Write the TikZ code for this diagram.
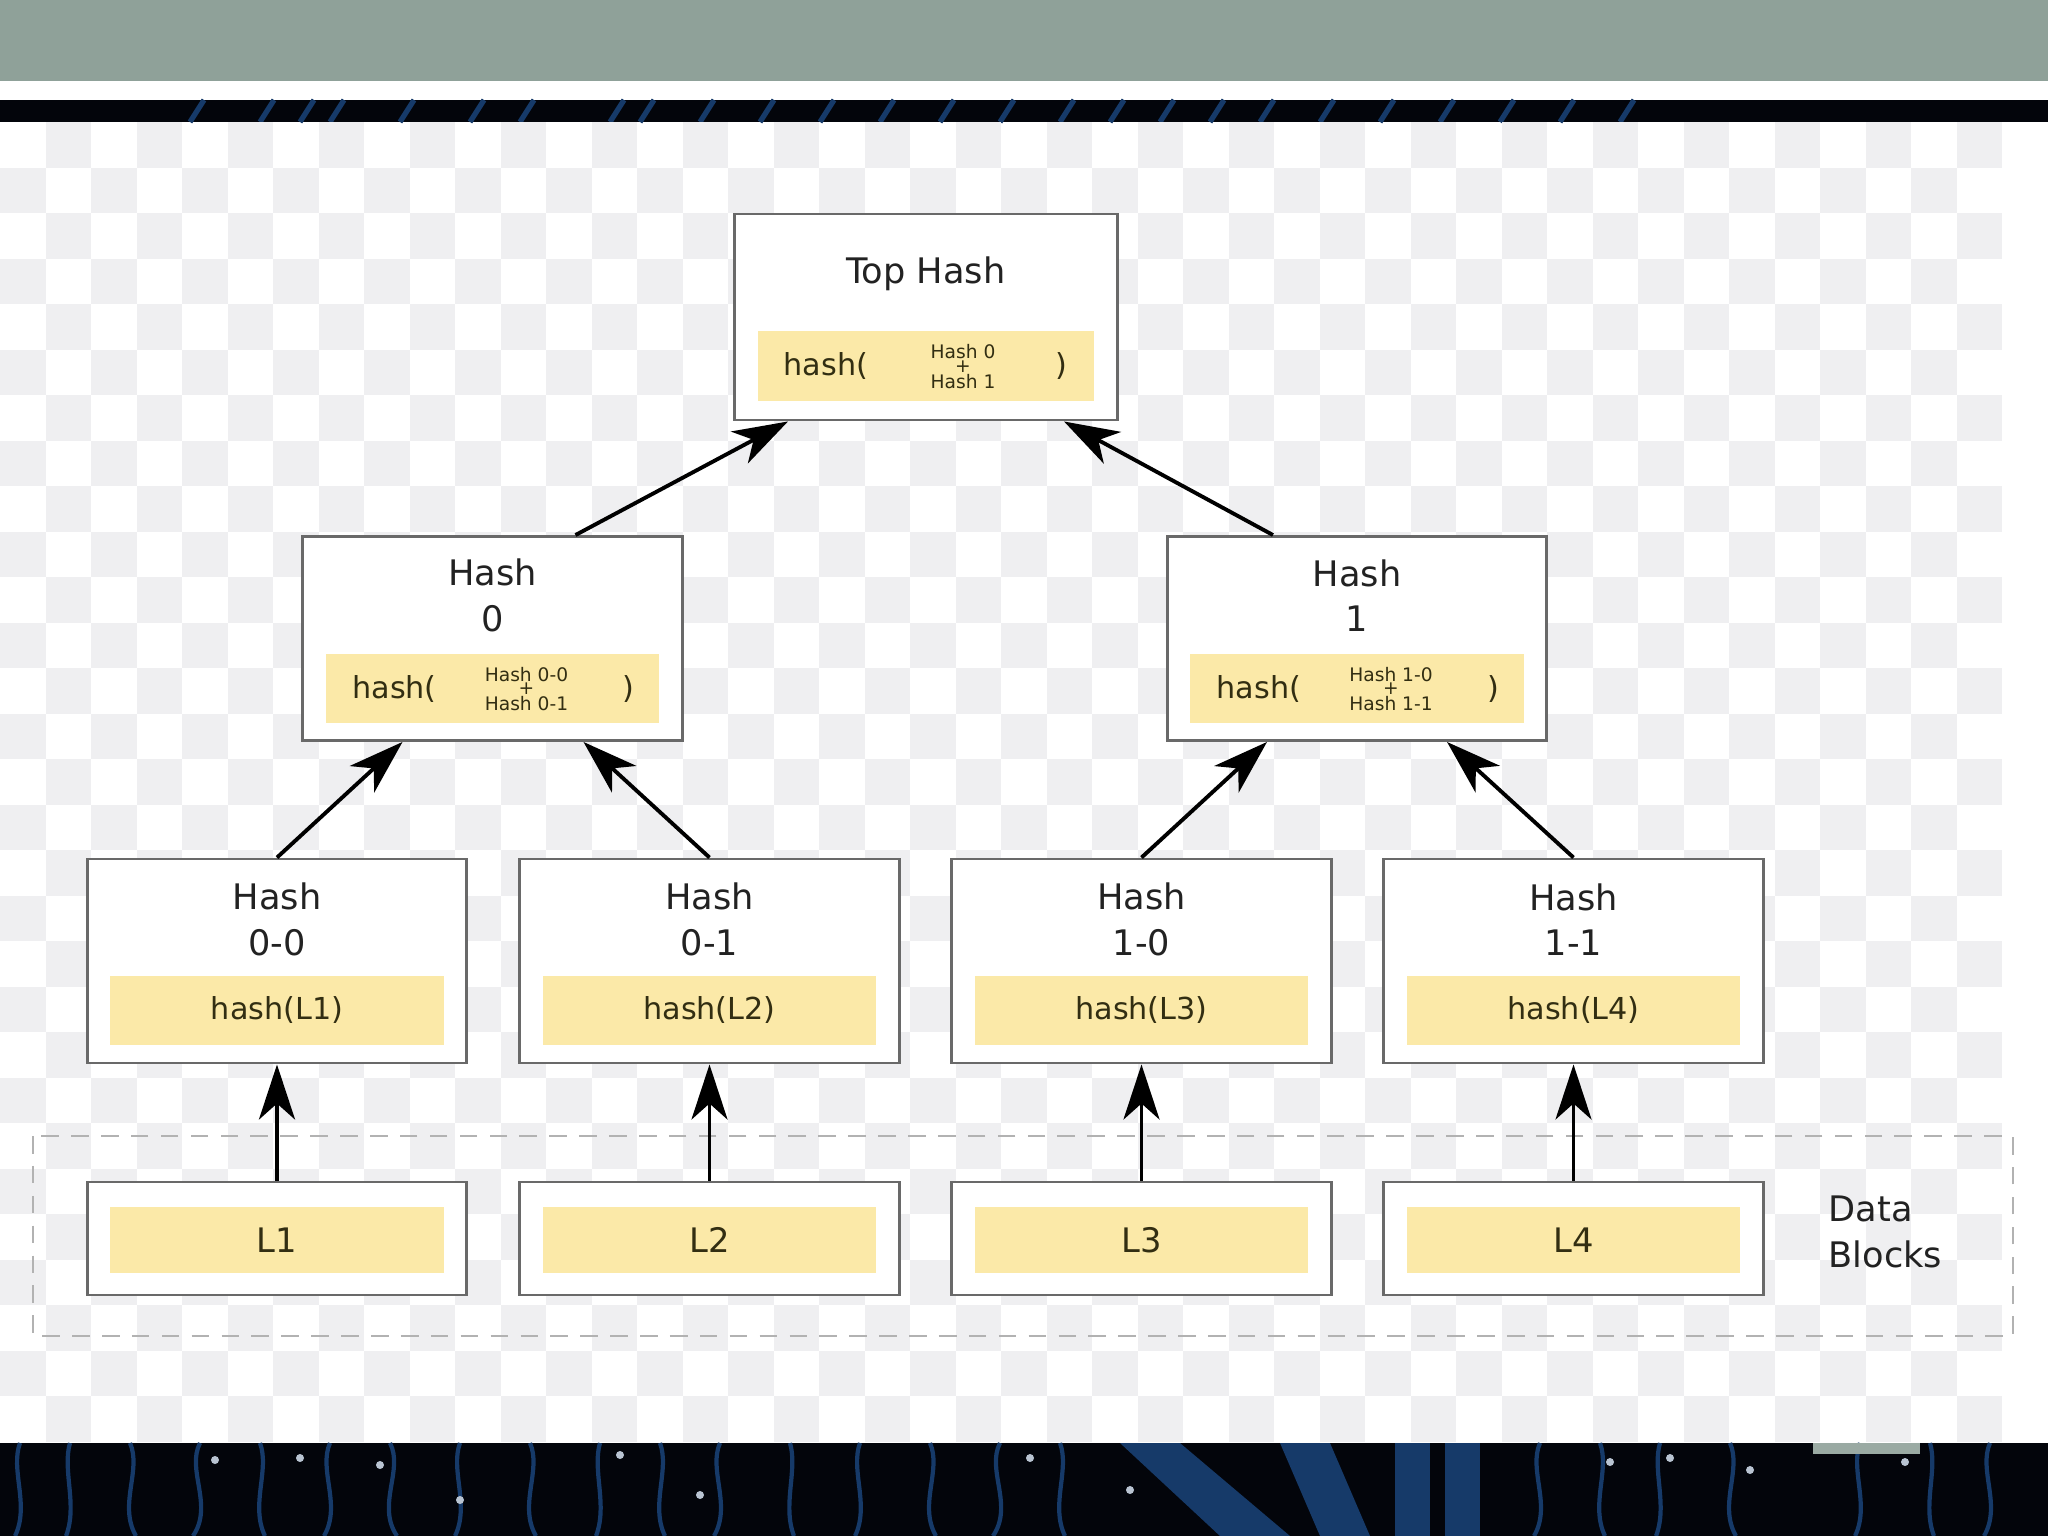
\documentclass[tikz,border=0pt]{standalone}
\usepackage{fontspec}
\setmainfont{DejaVu Sans}
\usetikzlibrary{arrows.meta, calc}

\definecolor{bannergray}{RGB}{143,161,153}
\definecolor{checkgray}{RGB}{239,239,241}
\definecolor{boxgray}{RGB}{105,105,105}
\definecolor{fieldyellow}{RGB}{251,233,168}
\definecolor{fieldtext}{RGB}{50,46,18}
\definecolor{labeltext}{RGB}{34,34,34}
\definecolor{circuitblue}{RGB}{22,58,105}
\definecolor{boarddark}{RGB}{3,5,11}

\newcommand{\titlefont}{\fontsize{10}{13}\selectfont}
\newcommand{\fieldfont}{\fontsize{8.6}{10}\selectfont}
\newcommand{\blockfont}{\fontsize{9.6}{11}\selectfont}
\newcommand{\stackfont}{\fontsize{5.3}{8.4}\selectfont}

\tikzset{
    hashbox/.style={draw=boxgray, fill=white, line width=0.8pt,
        minimum width=3.79cm, minimum height=2.04cm, inner sep=0pt},
    datablock/.style={hashbox, minimum height=1.13cm},
    hashfield/.style={fill=fieldyellow, minimum width=3.33cm,
        minimum height=0.69cm, inner sep=0pt, text=fieldtext, font=\fieldfont},
    titletext/.style={text=labeltext, font=\titlefont, align=center, inner sep=0pt},
    fieldtext/.style={text=fieldtext, font=\fieldfont, inner sep=0pt},
    stacktext/.style={text=fieldtext, font=\stackfont, align=center, inner sep=0pt},
    hasharrow/.style={->, line width=1.1pt, black},
}

\begin{document}
\begin{tikzpicture}[x=0.01cm, y=-0.01cm,
    >={Stealth[length=5.5mm, width=3.6mm, inset=1.6mm]}]

    \useasboundingbox (0,0) rectangle (2048,1536);
    \fill[white] (0,0) rectangle (2048,1536);

    % Banda superior
    \fill[bannergray] (0,0) rectangle (2048,81);
    \fill[boarddark] (0,100) rectangle (2048,122);
    \foreach \x in {190,260,300,330,400,470,520,610,640,700,760,820,880,940,
                    1000,1060,1110,1160,1210,1260,1320,1380,1440,1500,1560,1620}{
        \draw[circuitblue, line width=1.5pt] (\x,122) -- (\x+14,100);
    }

    % Fondo de cuadros
    \begin{scope}
        \clip (0,122) rectangle (2002,1443);
        \foreach \r in {0,...,28}{
            \foreach \c in {0,...,43}{
                \pgfmathparse{int(mod(\r+\c,2))}
                \ifnum\pgfmathresult=1
                    \fill[checkgray] ({\c*45.5},{122+\r*45.5}) rectangle ++(45.5,45.5);
                \fi
            }
        }
    \end{scope}

    % Banda inferior (placa de circuito)
    \fill[boarddark] (0,1443) rectangle (2048,1536);
    \fill[circuitblue] (1120,1443) -- (1180,1443) -- (1290,1536) -- (1220,1536) -- cycle;
    \fill[circuitblue] (1280,1443) -- (1330,1443) -- (1370,1536) -- (1320,1536) -- cycle;
    \fill[circuitblue] (1395,1443) -- (1430,1443) -- (1430,1536) -- (1395,1536) -- cycle;
    \fill[circuitblue] (1445,1443) -- (1480,1443) -- (1480,1536) -- (1445,1536) -- cycle;
    \foreach \x/\b in {20/-10,70/-8,130/12,200/-14,260/10,330/-12,390/14,
                       460/-10,530/12,600/-8,660/10,720/-12,790/8,860/-10,
                       930/12,1000/-14,1060/10,1540/-12,1600/10,1660/-8,
                       1730/12,1860/-10,1930/8,1990/-12}{
        \draw[circuitblue, line width=1.2pt]
            (\x,1443) .. controls (\x+\b,1470) and (\x-\b,1505) .. (\x+\b/2,1536);
    }
    \foreach \x/\y in {215/1460,300/1458,380/1465,460/1500,620/1455,700/1495,
                       1030/1458,1130/1490,1610/1462,1670/1458,1750/1470,1905/1462}{
        \fill[white!70!circuitblue] (\x,\y) circle (4);
    }
    \fill[bannergray!90!white] (1813,1443) rectangle (1920,1454);

    % Bloques de datos
    \draw[gray!60, line width=0.7pt, dash pattern=on 5pt off 3.5pt]
        (33,1136) rectangle (2013,1336);
    \node[titletext, align=left, anchor=west] (datalabel) at (1828,1232)
        {Data\\Blocks};

    % Hash raiz
    \node[hashbox, minimum width=3.82cm, minimum height=2.06cm] (top) at (926,317) {};
    \node[titletext] at ($(top.north)+(0,61)$) {Top Hash};
    \node[hashfield, minimum width=3.35cm, minimum height=0.70cm] (top-f)
        at ($(top.south)+(0,-55)$) {};
    \node[fieldtext] at ($(top-f)+(-100,0)$) {hash(};
    \node[stacktext] at ($(top-f)+(37,0)$) {Hash 0\\Hash 1};
    \node[stacktext] at ($(top-f)+(37,0)$) {+};
    \node[fieldtext] at ($(top-f)+(135,0)$) {)};

    % Nivel intermedio
    \foreach \x/\lab/\nm in {492.5/0/h0, 1357/1/h1}{
        \node[hashbox] (\nm) at (\x,638.5) {};
        \node[titletext] at ($(\nm.north)+(0,60.5)$) {Hash\\\lab};
        \node[hashfield] (\nm-f) at ($(\nm.south)+(0,-53)$) {};
        \node[fieldtext] at ($(\nm-f)+(-98,0)$) {hash(};
        \node[stacktext] at ($(\nm-f)+(34,0)$) {Hash \lab-0\\Hash \lab-1};
        \node[stacktext] at ($(\nm-f)+(34,0)$) {+};
        \node[fieldtext] at ($(\nm-f)+(136,0)$) {)};
    }

    % Hojas y bloques
    \foreach \x/\lab/\nm [count=\i] in {277/0-0/h00, 709.5/0-1/h01,
                                        1141.5/1-0/h10, 1573.5/1-1/h11}{
        \node[hashbox] (\nm) at (\x,961) {};
        \node[titletext] at ($(\nm.north)+(0,62)$) {Hash\\\lab};
        \node[hashfield, minimum height=0.68cm] (\nm-f)
            at ($(\nm.south)+(0,-54)$) {hash(L\i)};
        \node[datablock] (L\i) at (\x,1238.5) {};
        \node[hashfield, minimum height=0.66cm, font=\blockfont] (L\i-f)
            at ($(L\i)+(0,1.5)$) {L\i};
        \draw[hasharrow] (L\i.north) -- (\nm.south);
    }

    % Flechas entre niveles
    \draw[hasharrow] (h00.north) -- ($(h0.south)+(-90,0)$);
    \draw[hasharrow] (h01.north) -- ($(h0.south)+(91,0)$);
    \draw[hasharrow] (h10.north) -- ($(h1.south)+(-90,0)$);
    \draw[hasharrow] (h11.north) -- ($(h1.south)+(90,0)$);
    \draw[hasharrow] ($(h0.north)+(83,0)$) -- ($(top.south)+(-138,0)$);
    \draw[hasharrow] ($(h1.north)+(-84,0)$) -- ($(top.south)+(138,0)$);
\end{tikzpicture}
\end{document}
